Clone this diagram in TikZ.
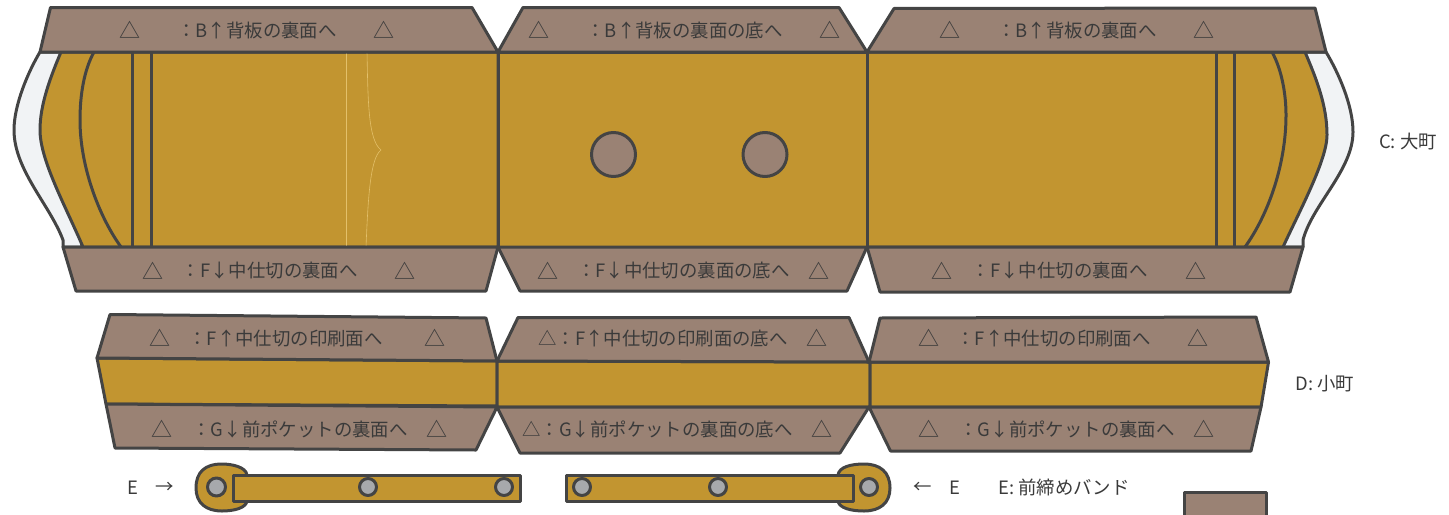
\documentclass[tikz,border=0pt]{standalone}
\usepackage{fontspec}
\setmainfont{Noto Sans CJK JP}
\definecolor{gold}{HTML}{C29530}
\definecolor{flap}{HTML}{9A8274}
\definecolor{pale}{HTML}{F1F3F5}
\definecolor{ink}{HTML}{444444}
\definecolor{txt}{HTML}{3A3A3A}
\definecolor{pin}{HTML}{A7A9AC}
\definecolor{seam}{HTML}{E3C06A}
\tikzset{
 edge/.style={draw=ink,line width=1.5pt,line join=round},
 flapbox/.style={edge,fill=flap},
 goldbox/.style={edge,fill=gold},
 palebox/.style={edge,fill=pale},
 rule/.style={draw=ink,line width=1.5pt},
 hair/.style={draw=seam,line width=0.3pt},
 hole/.style={edge,fill=flap},
 pinhole/.style={edge,fill=pin},
 lab/.style={inner sep=0pt,text=txt,font=\fontsize{9.2}{10}\selectfont},
 flaplab/.style={lab,anchor=east},
 tri/.style={inner sep=0pt,text=txt,font=\fontsize{10.5}{11}\selectfont}
}
\begin{document}
\begin{tikzpicture}[x=0.5pt,y=-0.5pt]
\useasboundingbox (0,0) rectangle (1449,514);
% C left end
\path[palebox] (40,52) .. controls (28,72) and (14,105) .. (14,130) .. controls (14,170) and (50,205) .. (63,240) -- (63,247) -- (82,247) -- (61,52) -- cycle;
\path[goldbox] (61,52) .. controls (50,78) and (40,105) .. (40,130) .. controls (40,160) and (65,205) .. (83,247) -- (498,247) -- (498,52) -- cycle;
\draw[rule] (94,52) .. controls (84,70) and (80,95) .. (80,120) .. controls (80,165) and (98,215) .. (121,247);
\draw[rule] (132,52) -- (132,247);
\draw[rule] (151,52) -- (151,247);
\draw[hair] (346,52) -- (346,247);
\draw[hair] (367,52) .. controls (368,100) and (368,140) .. (381,150) .. controls (370,158) and (368,200) .. (366,247);
% C right end
\path[palebox] (1326,52) .. controls (1338,72) and (1353,105) .. (1353,132) .. controls (1353,170) and (1312,205) .. (1303,240) -- (1303,247) -- (1283,247) -- (1305,52) -- cycle;
\path[goldbox] (1305,52) .. controls (1316,78) and (1327,105) .. (1327,135) .. controls (1327,160) and (1300,210) .. (1283,247) -- (867,247) -- (867,52) -- cycle;
\draw[rule] (1272,52) .. controls (1282,70) and (1286,95) .. (1286,115) .. controls (1286,165) and (1268,215) .. (1245,247);
\draw[rule] (1216,52) -- (1216,247);
\draw[rule] (1234,52) -- (1234,247);
% C centre
\path[goldbox] (498,52) rectangle (867,247);
\node[circle,hole,minimum size=22pt,inner sep=0pt] (h1) at (613.5,154.5) {};
\node[circle,hole,minimum size=22pt,inner sep=0pt] (h2) at (765,154.5) {};
% C flaps
\path[flapbox] (40,52) -- (50.5,7.5) -- (472,7.5) -- (498,52) -- cycle;
\path[flapbox] (498,52) -- (523,7.5) -- (839,7.5) -- (867,52) -- cycle;
\path[flapbox] (867,52) -- (894,8.5) -- (1315,8) -- (1326,52) -- cycle;
\path[flapbox] (63,247) -- (76,291) -- (486,291) -- (498,247) -- cycle;
\path[flapbox] (498,247) -- (520,291) -- (847,291) -- (867,247) -- cycle;
\path[flapbox] (867,247) -- (880,292) -- (1290,292) -- (1303,247) -- cycle;
% D
\path[goldbox] (97,358) -- (497,361) -- (497,406) -- (106,404) -- cycle;
\path[goldbox] (497,361) -- (870,362) -- (870,407) -- (497,407) -- cycle;
\path[goldbox] (870,362) -- (1268.5,362) -- (1261,407) -- (870,407) -- cycle;
\path[flapbox] (97,358) -- (110,314.5) -- (486,318) -- (497,361) -- cycle;
\path[flapbox] (497,361) -- (518,317.5) -- (849,317.5) -- (869,362) -- cycle;
\path[flapbox] (869,362) -- (880,318) -- (1256,317) -- (1268.5,362) -- cycle;
\path[flapbox] (106,404) -- (115,448) -- (476,450) -- (497,407) -- cycle;
\path[flapbox] (497,407) -- (520,453) -- (840,453) -- (869,407) -- cycle;
\path[flapbox] (869,407) -- (890.5,451) -- (1251,451) -- (1261,407) -- cycle;
% E bands
\path[goldbox] (247,475) .. controls (246,467) and (232,464) .. (222,464) .. controls (205,464) and (196,472) .. (196,488) .. controls (196,503) and (206,511) .. (222,511) .. controls (234,511) and (246,508) .. (247,501) -- cycle;
\path[goldbox] (233,475) rectangle (520.5,501);
\path[goldbox] (838,475) .. controls (839,467) and (851,464) .. (864,464) .. controls (880,464) and (890,472) .. (890,488) .. controls (890,503) and (880,511) .. (864,511) .. controls (851,511) and (839,508) .. (838,501) -- cycle;
\path[goldbox] (566,475) rectangle (853,501);
\node[circle,pinhole,minimum size=9pt,inner sep=0pt] (p1) at (216.5,487) {};
\node[circle,pinhole,minimum size=8.5pt,inner sep=0pt] (p2) at (368,487) {};
\node[circle,pinhole,minimum size=8.5pt,inner sep=0pt] (p3) at (504,487) {};
\node[circle,pinhole,minimum size=8.5pt,inner sep=0pt] (p4) at (582,487) {};
\node[circle,pinhole,minimum size=8.5pt,inner sep=0pt] (p5) at (718,487) {};
\node[circle,pinhole,minimum size=8.5pt,inner sep=0pt] (p6) at (869,487) {};
% stray tab
\path[flapbox] (1184.5,530) -- (1184.5,492.5) -- (1266,492.5) -- (1266,530) -- cycle;
% texts C
\node[tri] (t1) at (130,30) {△}; \node[flaplab] (l1) at (337,30) {：B↑背板の裏面へ}; \node[tri] (t2) at (384,30) {△};
\node[tri] (t3) at (539,30) {△}; \node[flaplab] (l2) at (783,30) {：B↑背板の裏面の底へ}; \node[tri] (t4) at (830,30) {△};
\node[tri] (t5) at (950,30) {△}; \node[flaplab] (l3) at (1157,30) {：B↑背板の裏面へ}; \node[tri] (t6) at (1204,30) {△};
\node[tri] (t7) at (153,271) {△}; \node[flaplab] (l4) at (358,271) {：F↓中仕切の裏面へ}; \node[tri] (t8) at (405,271) {△};
\node[tri] (t9) at (548,271) {△}; \node[flaplab] (l5) at (790,271) {：F↓中仕切の裏面の底へ}; \node[tri] (t10) at (819,271) {△};
\node[tri] (t11) at (942,271) {△}; \node[flaplab] (l6) at (1148,271) {：F↓中仕切の裏面へ}; \node[tri] (t12) at (1196,271) {△};
% texts D
\node[tri] (t13) at (160,338) {△}; \node[flaplab] (l7) at (383,338) {：F↑中仕切の印刷面へ}; \node[tri] (t14) at (435,338) {△};
\node[flaplab] (l8) at (788,338) {△：F↑中仕切の印刷面の底へ}; \node[tri] (t15) at (817,338) {△};
\node[tri] (t16) at (929,338) {△}; \node[flaplab] (l9) at (1151,338) {：F↑中仕切の印刷面へ}; \node[tri] (t17) at (1198,338) {△};
\node[tri] (t18) at (162,429) {△}; \node[flaplab] (l10) at (408,429) {：G↓前ポケットの裏面へ}; \node[tri] (t19) at (437,429) {△};
\node[flaplab] (l11) at (793,429) {△：G↓前ポケットの裏面の底へ}; \node[tri] (t20) at (822,429) {△};
\node[tri] (t21) at (929,429) {△}; \node[flaplab] (l12) at (1175,429) {：G↓前ポケットの裏面へ}; \node[tri] (t22) at (1204,429) {△};
% side labels
\node[lab] (c) at (1408,142) {C: 大町};
\node[lab] (d) at (1325,384) {D: 小町};
\node[lab] (e0) at (1064,487) {E: 前締めバンド};
\node[lab] (e1) at (133,488) {E};
\node[lab] (a1) at (165,488) {→};
\node[lab] (a2) at (923,488) {←};
\node[lab] (e2) at (955,488) {E};
\end{tikzpicture}
\end{document}
